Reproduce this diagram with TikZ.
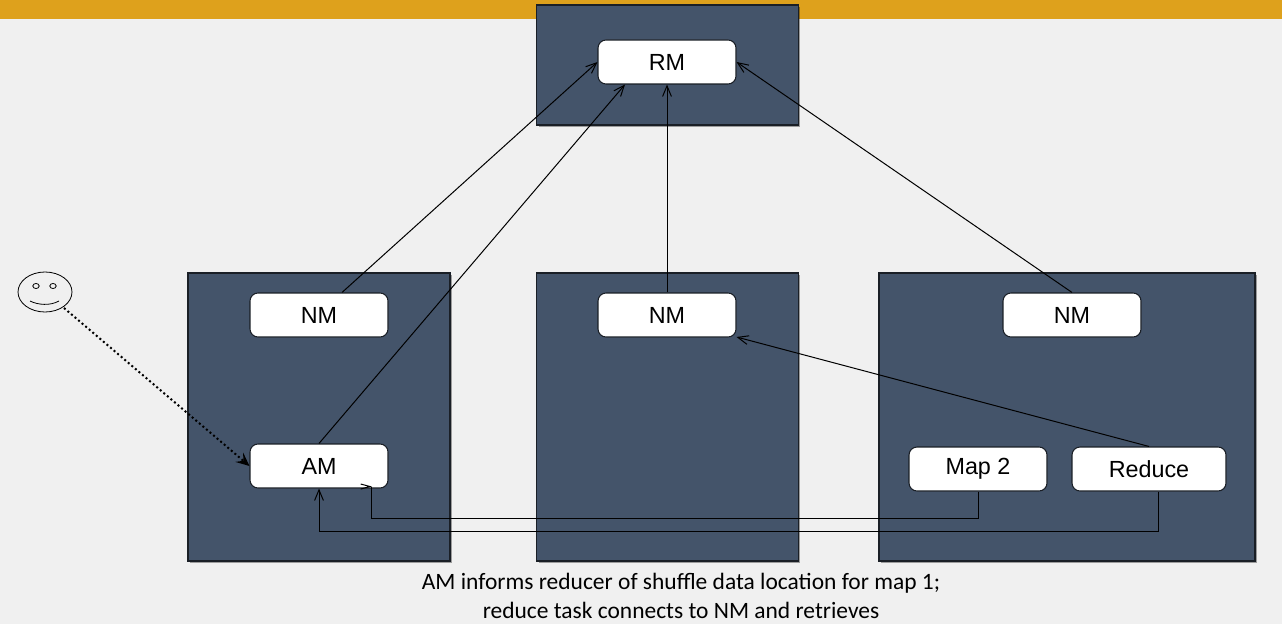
\documentclass[tikz,border=0pt]{standalone}
\usepackage{fontspec}
\setmainfont{Liberation Sans}
\newfontfamily\capfont{Carlito}
\usetikzlibrary{arrows.meta,shadows,calc,shapes.geometric}
\definecolor{pagebg}{HTML}{F0F0F0}
\definecolor{goldbar}{HTML}{DEA11C}
\definecolor{slatepanel}{HTML}{44546A}
\definecolor{edgedark}{HTML}{1A1F26}
\tikzset{
  panel/.style={draw=edgedark,fill=slatepanel,line width=0.8pt,inner sep=0pt,
    drop shadow={shadow xshift=1.5pt,shadow yshift=-1.5pt,opacity=0.35,fill=black}},
  wbox/.style={draw=edgedark,fill=white,rounded corners=6pt,line width=0.8pt,inner sep=0pt,
    minimum width=103.5pt,minimum height=33pt,font=\fontsize{17.5}{20}\selectfont},
  conn/.style={draw=black,line width=0.75pt,-{Straight Barb[length=8pt,width=8pt,angle'=45]}},
  usrconn/.style={draw=black,line width=1.5pt,dotted,-{Stealth[length=10pt,width=9pt,inset=4pt]}},
  caption/.style={font=\capfont\fontsize{17.6}{21.5}\selectfont,align=center,inner sep=0pt},
  face/.style={draw=black,line width=0.6pt,fill=none}
}
\begin{document}
\begin{tikzpicture}[x=0.75pt,y=-0.75pt]
\useasboundingbox (0,0) rectangle (1282,624);
\fill[pagebg] (0,0) rectangle (1282,624);
\fill[goldbar] (0,0) rectangle (1282,19);
% panels
\node[panel,minimum width=196pt,minimum height=90pt] (ptop) at (667.5,65) {};
\node[panel,minimum width=196.5pt,minimum height=216pt] (pleft) at (319,417) {};
\node[panel,minimum width=196pt,minimum height=216pt] (pmid) at (667.5,417) {};
\node[panel,minimum width=282pt,minimum height=216pt] (pright) at (1067,417) {};
% boxes
\node[wbox] (rm) at (667,62) {RM};
\node[wbox] (nma) at (319,315) {NM};
\node[wbox] (am) at (319,466) {AM};
\node[wbox] (nmb) at (667,315) {NM};
\node[wbox] (nmc) at (1072,315) {NM};
\node[wbox] (mapb) at (978,469) {Map 2};
\node[wbox,minimum width=115.5pt] (red) at (1149,469) {Reduce};
% user
\node[draw=black,line width=0.6pt,ellipse,minimum width=40.5pt,minimum height=30pt,inner sep=0pt] (usr) at (45,292) {};
\draw[face] (36,286) ellipse (2.4pt and 1.9pt);
\draw[face] (53,286) ellipse (2.4pt and 1.9pt);
\draw[face] (30,301) .. controls (38,305) and (50,306) .. (59,301);
% connectors
\draw[usrconn] ($(usr.center)+(19,16)$) -- (am.west);
\draw[conn] ($(nma.north)+(23,0)$) -- (rm.west);
\draw[conn] (am.north) -- ($(rm.south)+(-42,0)$);
\draw[conn] (nmb.north) -- (rm.south);
\draw[conn] (nmc.north) -- (rm.east);
\draw[conn] (red.north) -- ($(nmb.east)+(0,22)$);
\draw[line width=0.75pt] (mapb.south) -- ++(0,27) -| ($(am.south)+(52,-2)$);
\draw[line width=0.75pt,-{Straight Barb[length=7pt,width=8pt,angle'=30]}] ($(am.south)+(48,-2)$) -- ($(am.south)+(53,-2)$);
\draw[conn] ($(red.south)+(9,0)$) -- ++(0,40) -| (am.south);
% caption
\node[caption] (cap) at (681,596) {AM informs reducer of shuffle data location for map 1;\\reduce task connects to NM and retrieves};
\end{tikzpicture}
\end{document}
